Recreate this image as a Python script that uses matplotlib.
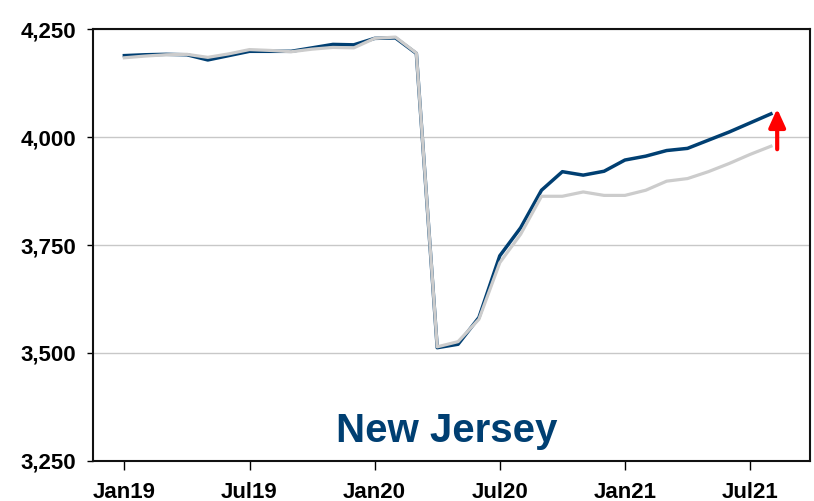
import numpy as np
import matplotlib
matplotlib.use("Agg")
import matplotlib.pyplot as plt

plt.rcParams['font.family'] = ['Liberation Sans', 'DejaVu Sans']

# monthly values, Jan19 .. Aug21
months = np.arange(32)
nj_actual = [4189, 4191, 4192, 4191, 4179, 4189, 4199, 4199, 4199, 4207, 4215, 4214,
             4229, 4230, 4194, 3512, 3520, 3582, 3725, 3790, 3877, 3920, 3912, 3921,
             3947, 3956, 3969, 3974, 3993, 4012, 4033, 4054]
nj_prior = [4184, 4188, 4191, 4192, 4185, 4193, 4203, 4201, 4198, 4204, 4208, 4207,
            4229, 4232, 4195, 3514, 3526, 3578, 3709, 3775, 3863, 3863, 3873, 3865,
            3865, 3877, 3898, 3904, 3920, 3939, 3960, 3979]
tick_pos = [0, 6, 12, 18, 24, 30]
tick_labels = ["Jan19", "Jul19", "Jan20", "Jul20", "Jan21", "Jul21"]
y_ticks = [3250, 3500, 3750, 4000, 4250]

BLUE = "#003f72"
GRAY = "#cccccc"

fig = plt.figure(figsize=(8.14, 5.01), dpi=100)
ax = fig.add_axes([0.1146, 0.0804, 0.995 - 0.1146, 0.9415 - 0.0804])

ax.plot(months, nj_actual, color=BLUE, lw=2.5, solid_joinstyle='round', zorder=3)
ax.plot(months, nj_prior, color=GRAY, lw=2.3, solid_joinstyle='round', zorder=4)

ax.annotate('', xy=(31.3, 4066), xytext=(31.3, 3972),
            arrowprops=dict(arrowstyle='-|>,head_length=0.55,head_width=0.25',
                            color='red', lw=3, mutation_scale=20,
                            shrinkA=0, shrinkB=0), zorder=5)

ax.set_xlim(-1.49, 32.87)
ax.set_ylim(3250, 4250)
ax.set_yticks(y_ticks)
ax.set_yticklabels(["{:,}".format(v) for v in y_ticks])
ax.set_xticks(tick_pos)
ax.set_xticklabels(tick_labels)
ax.tick_params(axis='y', length=4.5, width=1, pad=8, labelsize=16)
ax.tick_params(axis='x', length=6.5, width=1, pad=8.5, labelsize=16)
for lab in ax.get_xticklabels() + ax.get_yticklabels():
    lab.set_fontweight('bold')

ax.grid(axis='y', color='#c8c8c8', lw=1)
ax.set_axisbelow(True)
for s in ax.spines.values():
    s.set_linewidth(1.5)
    s.set_color('#111111')

ax.text(0.4935, 0.044, "New Jersey", transform=ax.transAxes, ha='center',
        va='baseline', fontsize=29, fontweight='bold', color=BLUE)

fig.savefig("out.png", dpi=100)
